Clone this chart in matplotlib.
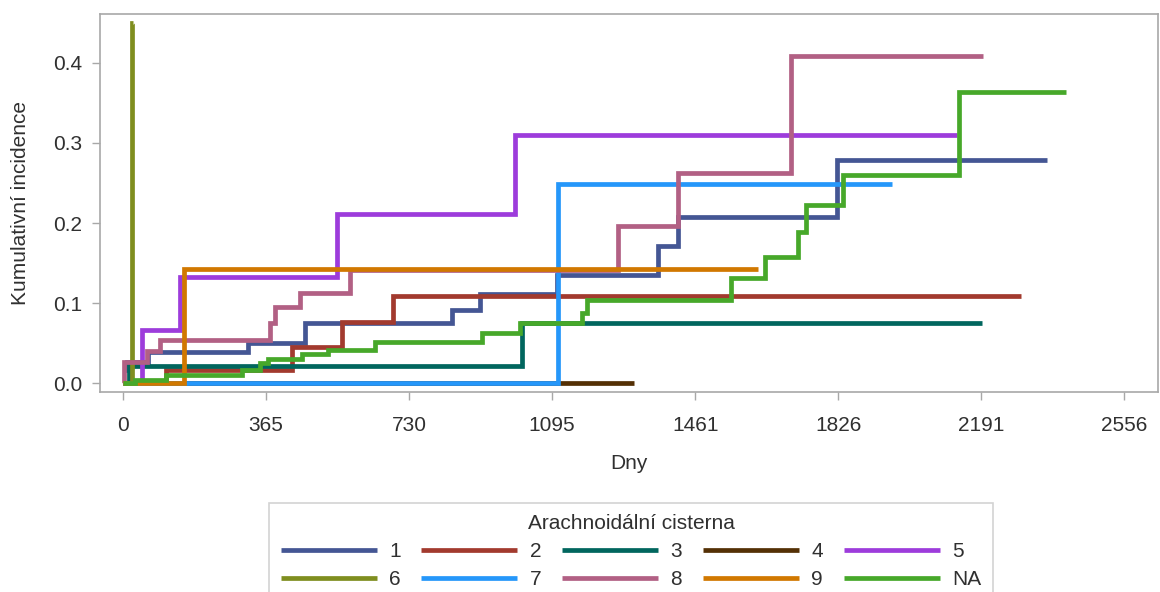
import matplotlib
matplotlib.use("Agg")
import matplotlib.pyplot as plt
from matplotlib import font_manager

# ---- data (days, cumulative incidence) ----
groups = ["1", "2", "3", "4", "5", "6", "7", "8", "9", "NA"]

t1 = [0, 10, 64, 319, 464, 839, 911, 1107, 1365, 1416, 1822, 2358]
v1 = [0.016, 0.027, 0.039, 0.050, 0.075, 0.092, 0.111, 0.135, 0.171, 0.208, 0.279, 0.279]

t2 = [0, 110, 431, 558, 689, 2293]
v2 = [0.0, 0.017, 0.045, 0.076, 0.109, 0.109]

t3 = [0, 15, 1018, 2192]
v3 = [0.0, 0.022, 0.075, 0.075]

t4 = [0, 1304]
v4 = [0.0, 0.0]

t5 = [0, 48, 145, 546, 1000, 2128]
v5 = [0.0, 0.067, 0.133, 0.211, 0.310, 0.310]

t6 = [0, 23, 24]
v6 = [0.0, 0.45, 0.45]

t7 = [0, 1110, 1964]
v7 = [0.0, 0.249, 0.249]

t8 = [0, 2, 61, 94, 375, 388, 452, 579, 1263, 1416, 1704, 2194]
v8 = [0.0, 0.027, 0.040, 0.054, 0.075, 0.095, 0.113, 0.141, 0.196, 0.263, 0.409, 0.409]

t9 = [0, 155, 1620]
v9 = [0.0, 0.143, 0.143]

tNA = [0, 30, 110, 303, 350, 370, 457, 523, 643, 916, 1013, 1171, 1185,
       1551, 1638, 1722, 1743, 1837, 2133, 2408]
vNA = [0.0, 0.004, 0.010, 0.016, 0.025, 0.030, 0.036, 0.042, 0.051, 0.0625,
       0.075, 0.0875, 0.104, 0.131, 0.158, 0.189, 0.222, 0.260, 0.364, 0.364]

times = [t1, t2, t3, t4, t5, t6, t7, t8, t9, tNA]
values = [v1, v2, v3, v4, v5, v6, v7, v8, v9, vNA]

colors = ["#445694", "#A23A2E", "#01665E", "#543005", "#9D3CDB",
          "#7F8E1F", "#2597FA", "#B26084", "#D17800", "#47A82A"]

xticks = [0, 365, 730, 1095, 1461, 1826, 2191, 2556]
yticks = [0.0, 0.1, 0.2, 0.3, 0.4]

# ---- fonts ----
avail = {f.name for f in font_manager.fontManager.ttflist}
fam = "Liberation Sans Narrow" if "Liberation Sans Narrow" in avail else "Liberation Sans"
plt.rcParams["font.family"] = [fam, "DejaVu Sans"]

fig = plt.figure(figsize=(11.6, 5.92), dpi=100)
ax = fig.add_axes([100 / 1160, 1 - 392 / 592, 1058 / 1160, 378 / 592])

handles = []
for g, t, v, c in zip(groups, times, values, colors):
    h, = ax.plot(t, v, drawstyle="steps-post", color=c, lw=3.4, label=g,
                 solid_capstyle="butt", solid_joinstyle="miter")
    handles.append(h)

ax.set_xlim(-59, 2642)
ax.set_ylim(-0.011, 0.461)
ax.set_xticks(xticks)
ax.set_xticklabels([str(x) for x in xticks])
ax.set_yticks(yticks)
ax.set_yticklabels([f"{y:.1f}" for y in yticks])

gray = "#A8A8A8"
for s in ax.spines.values():
    s.set_color(gray)
    s.set_linewidth(1.2)
ax.tick_params(axis="both", colors=gray, length=6, width=1.0, labelsize=15,
               labelcolor="#303030")
ax.tick_params(axis="x", pad=11)
ax.tick_params(axis="y", pad=7)

ax.set_xlabel("Dny", fontsize=15, color="#303030", labelpad=14)
ax.set_ylabel("Kumulativní incidence", fontsize=15, color="#303030", labelpad=16)

# legend filled row-wise (matplotlib fills column-wise, so reorder)
ncol = 5
nrow = 2
order = [r * ncol + c for c in range(ncol) for r in range(nrow)]
leg = fig.legend([handles[i] for i in order], [groups[i] for i in order],
                 loc="upper center", bbox_to_anchor=(631 / 1160, 1 - 503 / 592),
                 ncol=ncol, title="Arachnoidální cisterna", fontsize=15,
                 title_fontsize=15, handlelength=4.6, handletextpad=0.6,
                 columnspacing=1.0, borderpad=0.55, labelspacing=0.42,
                 frameon=True, fancybox=False, borderaxespad=0)
leg.get_frame().set_edgecolor("#C8C8C8")
leg.get_frame().set_linewidth(1.2)
for line in leg.get_lines():
    line.set_linewidth(3.4)
for txt in leg.get_texts():
    txt.set_color("#303030")
leg.get_title().set_color("#303030")

fig.savefig("out.png", dpi=100)
